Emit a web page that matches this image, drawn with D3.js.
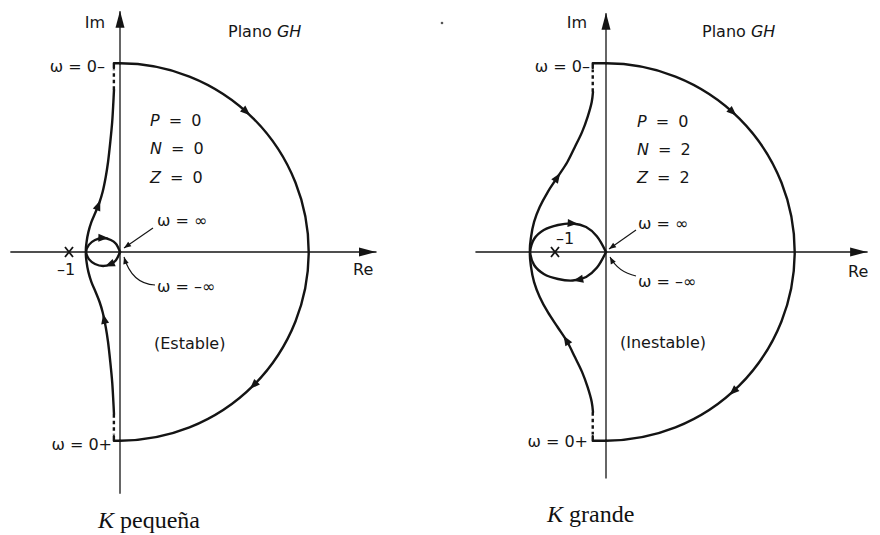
<!DOCTYPE html>
<html lang="es">
<head>
<meta charset="utf-8">
<script src="https://cdn.jsdelivr.net/npm/d3@7/dist/d3.min.js"></script>
<style>
  html, body { margin: 0; padding: 0; background: #fff; }
  svg { display: block; }
  text { font-family: "DejaVu Sans", sans-serif; font-size: 16px; fill: #161616; }
  .cap { font-family: "Liberation Serif", "Times New Roman", serif; font-size: 24px; fill: #111; }
</style>
</head>
<body>
<svg id="chart" width="880" height="535"></svg>
<script>
// Polar (Nyquist) plots of GH(jω) for a small and a large gain K.
// Points are [Re, Im], in units where the critical point sits at -1.

// ω from 0+ up to the real-axis crossing (lower outer curve)
const smallKOuter = [[-0.118,-3.18],[-0.13,-2.94],[-0.153,-2.55],[-0.19,-2.16],[-0.235,-1.76],[-0.28,-1.47],[-0.34,-1.18],[-0.40,-0.98],[-0.48,-0.78],[-0.56,-0.59],[-0.62,-0.39],[-0.655,-0.2],[-0.667,0]];
// from the crossing on to ω = +∞ (upper half of the loop)
const smallKLoop = [[-0.667,0],[-0.61,0.14],[-0.49,0.235],[-0.33,0.275],[-0.18,0.235],[-0.08,0.16],[0,0]];

const largeKOuter = [[-0.255,-3.14],[-0.28,-2.94],[-0.36,-2.65],[-0.47,-2.35],[-0.61,-2.06],[-0.76,-1.76],[-0.95,-1.47],[-1.14,-1.18],[-1.3,-0.88],[-1.41,-0.59],[-1.47,-0.29],[-1.49,0]];
const largeKLoop = [[-1.49,0],[-1.41,0.255],[-1.22,0.43],[-0.94,0.53],[-0.65,0.56],[-0.39,0.49],[-0.18,0.31],[0,0]];

// radius standing for |GH| → ∞ (image of the detour round s = 0)
const infiniteRadius = [3.7, 3.7];
// real part approached as ω → 0±
const lowFreqRe = [-0.12, -0.26];

// where the direction arrows sit on each plot
const smallKArrows = [[-0.42,0.92],[-0.24,-1.29],[-0.33,0.27],[-0.22,-0.22],[2.48,2.75],[2.62,-2.62]];
const largeKArrows = [[-0.94,1.45],[-0.79,-1.73],[-0.65,0.57],[-0.55,-0.55],[2.49,2.74],[2.49,-2.73]];

// Nyquist criterion counts
const quantities = ["P","N","Z"];
const smallKCounts = [0,0,0];
const largeKCounts = [0,2,2];

// axis extents
const axisRe = [[-2.16,5.02],[-2.57,5.12]];
const axisIm = [[-4.73,4.73],[-4.43,4.69]];

const INK = "#141414";

const panels = [
  {
    ox: 120, oy: 252, unit: 51,
    outer: smallKOuter, loop: smallKLoop, R: infiniteRadius[0], asym: lowFreqRe[0],
    arrows: smallKArrows, counts: smallKCounts, re: axisRe[0], im: axisIm[0],
    status: "(Estable)", caption: "pequeña",
    pos: {
      im: [105,28], plano: [228,37], w0m: [105,72], pnzX: 150, pnzY: [126,154,183],
      winf: [157,226], wminf: [157,292], status: [154,349], m1: [57,275], m1Size: 16,
      w0p: [112,450], re: [353,275], caption: [98,528],
      leadInf: [[153,228],[124,248]], leadMinf: [[155,285],[132,284],[124,257]]
    }
  },
  {
    ox: 606, oy: 252, unit: 51,
    outer: largeKOuter, loop: largeKLoop, R: infiniteRadius[1], asym: lowFreqRe[1],
    arrows: largeKArrows, counts: largeKCounts, re: axisRe[1], im: axisIm[1],
    status: "(Inestable)", caption: "grande",
    pos: {
      im: [587,28], plano: [702,37], w0m: [590,72], pnzX: 637, pnzY: [127,155,183],
      winf: [638,229], wminf: [638,287], status: [620,348], m1: [556,244], m1Size: 14,
      w0p: [588,447], re: [848,277], caption: [547,522],
      leadInf: [[636,230],[609,249]], leadMinf: [[636,276],[618,272],[610,257]]
    }
  }
];

const svg = d3.select("#chart");

// small scan speck near the right panel
svg.append("circle").attr("cx", 442).attr("cy", 23).attr("r", 1.3).attr("fill", "#555");

function head(g, x, y, angleDeg, len, half) {
  g.append("path")
    .attr("d", `M0,0 L${-len},${-half} L${-len},${half} Z`)
    .attr("transform", `translate(${x},${y}) rotate(${angleDeg})`)
    .attr("fill", INK);
}

panels.forEach(p => {
  const x = d3.scaleLinear().domain([0, 1]).range([p.ox, p.ox + p.unit]);
  const y = d3.scaleLinear().domain([0, 1]).range([p.oy, p.oy - p.unit]);
  const g = svg.append("g");

  // axes (plain lines, no ticks) with arrowheads
  const reScale = d3.scaleLinear().domain(p.re).range(p.re.map(x));
  const imScale = d3.scaleLinear().domain(p.im).range(p.im.map(y));
  g.append("g").attr("transform", `translate(0,${y(0) - 0.5})`)
    .call(d3.axisBottom(reScale).tickValues([]).tickSizeOuter(0));
  g.append("g").attr("transform", `translate(${x(0) - 0.5},0)`)
    .call(d3.axisLeft(imScale).tickValues([]).tickSizeOuter(0));
  g.selectAll(".domain").attr("stroke", INK).attr("stroke-width", 1.3);
  head(g, reScale.range()[1], y(0), 0, 17, 4.5);
  head(g, x(0), imScale.range()[1], -90, 17, 4.5);

  // Nyquist branches
  const line = d3.line().x(d => x(d[0])).y(d => y(d[1])).curve(d3.curveCatmullRom.alpha(0.5));
  const pos = p.outer.concat(p.loop.slice(1));
  const neg = pos.map(([a, b]) => [a, -b]).reverse();
  const curveStyle = s => s.attr("fill", "none").attr("stroke", INK).attr("stroke-width", 2.4)
    .attr("stroke-linejoin", "round").attr("stroke-linecap", "round");
  const pPos = g.append("path").attr("d", line(pos)).call(curveStyle);
  const pNeg = g.append("path").attr("d", line(neg)).call(curveStyle);

  // dotted run towards |GH| = ∞ and the corner onto the big arc
  const endIm = Math.abs(p.outer[0][1]);
  [1, -1].forEach(s => {
    g.append("path")
      .attr("d", d3.line()([[x(p.asym), y(s * endIm)], [x(p.asym), y(s * (p.R - 0.12))]]))
      .call(curveStyle).attr("stroke-linecap", "butt").attr("stroke-dasharray", "3.5,3");
    g.append("path")
      .attr("d", d3.line()([[x(p.asym), y(s * (p.R - 0.09))], [x(p.asym), y(s * p.R)], [x(0), y(s * p.R)]]))
      .call(curveStyle);
  });

  // semicircle of infinite radius, traversed clockwise
  const cx = x(0), cy = y(0), r = x(p.R) - x(0);
  const ap = d3.path();
  ap.moveTo(cx, cy - r);
  ap.arc(cx, cy, r, -Math.PI / 2, Math.PI / 2, false);
  const pArc = g.append("path").attr("d", ap.toString()).call(curveStyle);

  // direction arrows placed on the nearest track
  const tracks = [pPos.node(), pNeg.node(), pArc.node()];
  p.arrows.forEach(([a, b]) => {
    const tx = x(a), ty = y(b);
    let best = null;
    tracks.forEach(node => {
      const L = node.getTotalLength();
      for (let s = 0; s <= L; s += 0.5) {
        const q = node.getPointAtLength(s);
        const d = (q.x - tx) ** 2 + (q.y - ty) ** 2;
        if (!best || d < best.d) best = { d, node, s, L };
      }
    });
    const q0 = best.node.getPointAtLength(Math.max(0, best.s - 2));
    const q1 = best.node.getPointAtLength(Math.min(best.L, best.s + 2));
    const c = best.node.getPointAtLength(best.s);
    const ang = Math.atan2(q1.y - q0.y, q1.x - q0.x) * 180 / Math.PI;
    g.append("path").attr("d", "M5,0 L-5,-4 L-5,4 Z")
      .attr("transform", `translate(${c.x},${c.y}) rotate(${ang})`).attr("fill", INK);
  });

  // critical point -1
  const m = [x(-1), y(0)];
  g.append("path")
    .attr("d", `M${m[0] - 4},${m[1] - 5}L${m[0] + 4},${m[1] + 5}M${m[0] + 4},${m[1] - 5}L${m[0] - 4},${m[1] + 5}`)
    .attr("stroke", INK).attr("stroke-width", 1.8).attr("fill", "none");

  const P = p.pos;
  const txt = (xy, str, anchor) => g.append("text").attr("x", xy[0]).attr("y", xy[1])
    .attr("text-anchor", anchor || "start").text(str);

  txt(P.im, "Im", "end");
  txt(P.re, "Re");
  const pl = g.append("text").attr("x", P.plano[0]).attr("y", P.plano[1]);
  pl.append("tspan").text("Plano ");
  pl.append("tspan").attr("font-style", "italic").text("GH");
  txt(P.w0m, "ω = 0–", "end");
  txt(P.w0p, "ω = 0+", "end");
  txt(P.winf, "ω = ∞");
  txt(P.wminf, "ω = –∞");
  txt(P.status, p.status);
  txt(P.m1, "–1").attr("font-size", P.m1Size);

  quantities.forEach((q, i) => {
    const t = g.append("text").attr("x", P.pnzX).attr("y", P.pnzY[i]).attr("letter-spacing", 2);
    t.append("tspan").attr("font-style", "italic").text(q);
    t.append("tspan").text(" = " + p.counts[i]);
  });

  // leader lines to the origin
  const lead = s => s.attr("fill", "none").attr("stroke", INK).attr("stroke-width", 1.1);
  const li = P.leadInf;
  g.append("path").attr("d", d3.line()(li)).call(lead);
  head(g, li[1][0], li[1][1], Math.atan2(li[1][1] - li[0][1], li[1][0] - li[0][0]) * 180 / Math.PI, 7, 2.8);
  const lm = P.leadMinf;
  g.append("path").attr("d", `M${lm[0][0]},${lm[0][1]}Q${lm[1][0]},${lm[1][1]} ${lm[2][0]},${lm[2][1]}`).call(lead);
  head(g, lm[2][0], lm[2][1], Math.atan2(lm[2][1] - lm[1][1], lm[2][0] - lm[1][0]) * 180 / Math.PI, 7, 2.8);

  // caption
  const cap = g.append("text").attr("class", "cap").attr("x", P.caption[0]).attr("y", P.caption[1]);
  cap.append("tspan").attr("font-style", "italic").text("K");
  cap.append("tspan").text(" " + p.caption);
});
</script>
</body>
</html>
